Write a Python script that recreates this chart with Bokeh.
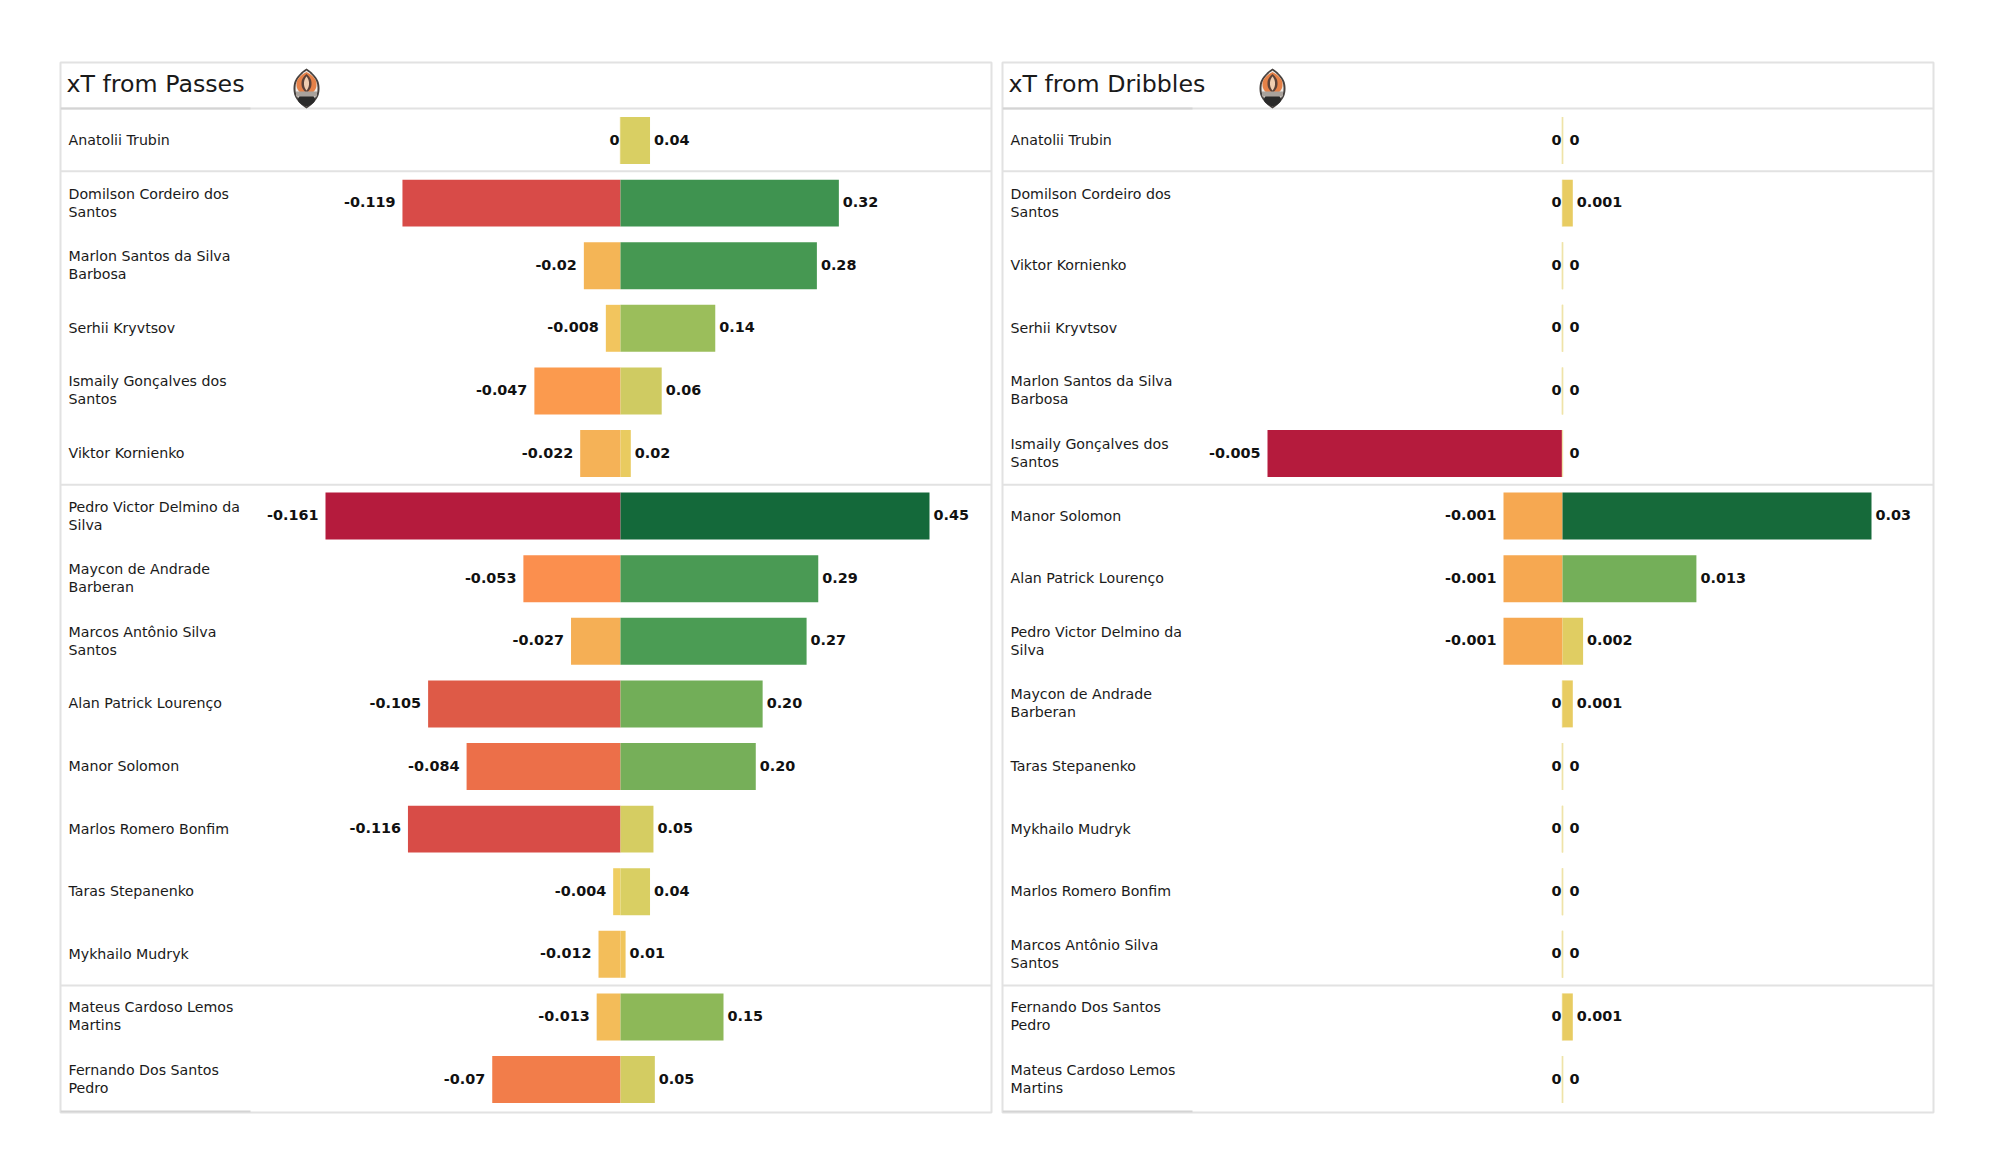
import numpy as np
from bokeh.embed import file_html
from bokeh.resources import INLINE
from bokeh.models import Range1d, ColumnDataSource
from bokeh.plotting import figure
from bokeh.layouts import row
from bokeh.core.properties import value

# ---------- data ----------
pass_names = ["Anatolii Trubin", "Domilson Cordeiro dos\nSantos", "Marlon Santos da Silva\nBarbosa",
              "Serhii Kryvtsov", "Ismaily Gonçalves dos\nSantos", "Viktor Kornienko",
              "Pedro Victor Delmino da\nSilva", "Maycon de Andrade\nBarberan", "Marcos Antônio Silva\nSantos",
              "Alan Patrick Lourenço", "Manor Solomon", "Marlos Romero Bonfim", "Taras Stepanenko",
              "Mykhailo Mudryk", "Mateus Cardoso Lemos\nMartins", "Fernando Dos Santos\nPedro"]
pass_neg = [0, -0.119, -0.02, -0.008, -0.047, -0.022, -0.161, -0.053, -0.027, -0.105, -0.084, -0.116,
            -0.004, -0.012, -0.013, -0.07]
pass_pos = [0.043, 0.318, 0.286, 0.138, 0.06, 0.015, 0.45, 0.288, 0.271, 0.207, 0.197, 0.048, 0.043,
            0.0074, 0.15, 0.05]
pass_neg_labels = ["0", "-0.119", "-0.02", "-0.008", "-0.047", "-0.022", "-0.161", "-0.053", "-0.027",
                   "-0.105", "-0.084", "-0.116", "-0.004", "-0.012", "-0.013", "-0.07"]
pass_pos_labels = ["0.04", "0.32", "0.28", "0.14", "0.06", "0.02", "0.45", "0.29", "0.27", "0.20", "0.20",
                   "0.05", "0.04", "0.01", "0.15", "0.05"]

drib_names = ["Anatolii Trubin", "Domilson Cordeiro dos\nSantos", "Viktor Kornienko", "Serhii Kryvtsov",
              "Marlon Santos da Silva\nBarbosa", "Ismaily Gonçalves dos\nSantos", "Manor Solomon",
              "Alan Patrick Lourenço", "Pedro Victor Delmino da\nSilva", "Maycon de Andrade\nBarberan",
              "Taras Stepanenko", "Mykhailo Mudryk", "Marlos Romero Bonfim", "Marcos Antônio Silva\nSantos",
              "Fernando Dos Santos\nPedro", "Mateus Cardoso Lemos\nMartins"]
drib_neg = [0, 0, 0, 0, 0, -0.005, -0.001, -0.001, -0.001, 0, 0, 0, 0, 0, 0, 0]
drib_pos = [0, 0.001, 0, 0, 0, 0, 0.03, 0.013, 0.002, 0.001, 0, 0, 0, 0, 0.001, 0]
drib_neg_labels = ["0", "0", "0", "0", "0", "-0.005", "-0.001", "-0.001", "-0.001", "0", "0", "0", "0", "0", "0", "0"]
drib_pos_labels = ["0", "0.001", "0", "0", "0", "0", "0.03", "0.013", "0.002", "0.001", "0", "0", "0", "0", "0.001", "0"]

# ---------- bar colours ----------
PALE = "#EFE3A8"
pass_neg_colors = [PALE, "#D84B48", "#F4B556", "#F2C55E", "#FB9A4E", "#F5B257", "#B51B3D", "#FB8F4E",
                   "#F5AF55", "#DE5A47", "#EC6F49", "#D84C47", "#EFCE62", "#F3BE5A", "#F3BC59", "#F27D4A"]
pass_pos_colors = ["#D9CF63", "#3F9350", "#469852", "#9BBE5B", "#CFCB62", "#E9CB60", "#14693A", "#4A9A54",
                   "#4B9C54", "#72AE58", "#76AF59", "#D5CD62", "#D9CF63", "#F0C55C", "#8DB858", "#D3CC62"]
drib_neg_colors = [PALE, PALE, PALE, PALE, PALE, "#B51B3D", "#F6A851", "#F6A851", "#F6A851",
                   PALE, PALE, PALE, PALE, PALE, PALE, PALE]
drib_pos_colors = [PALE, "#E8CC62", PALE, PALE, PALE, PALE, "#166A3A", "#74AF59", "#E0CD62", "#E8CC62",
                   PALE, PALE, PALE, PALE, "#E8CC62", PALE]

# ---------- layout constants (pixels) ----------
FRAME_W, FRAME_H = 931, 1050
FRAME_TOP = 62
ROW0, ROW_STEP = 140.0, 62.6
ZERO_PX = 560
NEG_PX, POS_PX = 295, 309
GRID = "#E2E2E2"
FONT = value("DejaVu Sans")


def vesica(cx, cy, w, h, n=40):
    """Pointed oval outline, used for the club crest."""
    t = np.linspace(-1, 1, n)
    half = w / 2 * (1 - np.abs(t) ** 2.3)
    xs = np.concatenate([cx + half, (cx - half)[::-1]])
    ys = np.concatenate([cy + h / 2 * t, (cy + h / 2 * t)[::-1]])
    return xs.tolist(), ys.tolist()


def panel(title, logo_x, names, neg, pos, neg_labels, pos_labels, neg_colors, pos_colors, left, right, width):
    y_top = (FRAME_TOP - ROW0) / ROW_STEP
    y_bot = (FRAME_TOP + FRAME_H - ROW0) / ROW_STEP
    p = figure(width=width, height=1122, output_backend="svg", toolbar_location=None,
               x_range=Range1d(0, FRAME_W), y_range=Range1d(y_bot, y_top),
               min_border_left=left, min_border_right=right, min_border_top=FRAME_TOP, min_border_bottom=10,
               x_axis_location=None, y_axis_location=None)
    p.grid.visible = False
    p.outline_line_color = GRID
    p.outline_line_width = 2
    p.background_fill_color = "white"

    # independent scales on each side of the zero line, as in the reference
    neg_scale = NEG_PX / abs(min(neg))
    pos_scale = POS_PX / max(pos)
    p.extra_x_ranges["neg"] = Range1d(-ZERO_PX / neg_scale, (FRAME_W - ZERO_PX) / neg_scale)
    p.extra_x_ranges["pos"] = Range1d(-ZERO_PX / pos_scale, (FRAME_W - ZERO_PX) / pos_scale)
    p.extra_y_ranges["px"] = Range1d(FRAME_H, 0)

    rows = list(range(len(names)))
    zeros = [0] * len(names)
    neg_src = ColumnDataSource(dict(y=rows, v=neg, z=zeros, c=neg_colors, t=neg_labels,
                                    off=[-1 if v == 0 else -7 for v in neg],
                                    lw=[1.4 if v == 0 else 0 for v in neg]))
    pos_src = ColumnDataSource(dict(y=rows, v=pos, z=zeros, c=pos_colors, t=pos_labels,
                                    off=[7 if v == 0 else 4 for v in pos],
                                    lw=[1.4 if v == 0 else 0 for v in pos]))

    for src, rng in ((neg_src, "neg"), (pos_src, "pos")):
        p.hbar(y="y", left="z", right="v", height=0.75, fill_color="c", line_color="c",
               line_width="lw", source=src, x_range_name=rng)

    p.text(x="v", y="y", text="t", x_offset="off", y_offset=-1, text_align="right", text_baseline="middle",
           text_font=FONT, text_font_style="bold", text_font_size="14.4px", text_color="#111111",
           source=neg_src, x_range_name="neg")
    p.text(x="v", y="y", text="t", x_offset="off", y_offset=-1, text_align="left", text_baseline="middle",
           text_font=FONT, text_font_style="bold", text_font_size="14.4px", text_color="#111111",
           source=pos_src, x_range_name="pos")

    p.text(x=[8] * len(names), y=rows, text=names, y_offset=-0.5, text_align="left", text_baseline="middle",
           text_font=FONT, text_font_size="14.2px", text_color="#1a1a1a", text_line_height=1.13)

    # separators
    for y in (-0.51, 0.49, 5.5, 13.5):
        p.segment(x0=[0], x1=[FRAME_W], y0=[y], y1=[y], line_color=GRID, line_width=2)
    hdr = (108 - FRAME_TOP)
    p.segment(x0=[0], x1=[190], y0=[hdr], y1=[hdr], line_color="#D4D4D4", line_width=2, y_range_name="px")
    p.segment(x0=[0], x1=[190], y0=[FRAME_H - 1], y1=[FRAME_H - 1], line_color="#D4D4D4", line_width=2, y_range_name="px")

    # title
    p.text(x=[6], y=[(88 - FRAME_TOP) - 5], text=[title], text_align="left", text_baseline="middle",
           text_font=FONT, text_font_size="23.7px", text_color="#1a1a1a", y_range_name="px")

    # club crest, drawn from simple shapes
    cy = 88 - FRAME_TOP
    def v(dy, w, h, c):
        xs, ys = vesica(logo_x, cy + dy, w, h)
        p.patch(xs, ys, fill_color=c, line_color=None, y_range_name="px")
    v(0, 26, 40, "#46413F")
    v(0, 22, 36, "#EFEBE6")
    v(-4, 20, 25, "#E58148")
    v(-5, 10, 19, "#5C4238")
    v(-5, 5, 14, "#EFCDB0")
    v(11, 17, 14, "#2A2A2A")
    p.quad(left=[logo_x - 10.5], right=[logo_x + 10.5], top=[cy + 3], bottom=[cy + 8], fill_color="#A9A29C",
           line_color=None, y_range_name="px")
    return p


p1 = panel("xT from Passes", 246, pass_names, pass_neg, pass_pos, pass_neg_labels, pass_pos_labels,
           pass_neg_colors, pass_pos_colors, left=60, right=6, width=997)
p2 = panel("xT from Dribbles", 270, drib_names, drib_neg, drib_pos, drib_neg_labels, drib_pos_labels,
           drib_neg_colors, drib_pos_colors, left=5, right=59, width=995)

layout = row(p1, p2)
open("out.html", "w").write(file_html(layout, INLINE))
